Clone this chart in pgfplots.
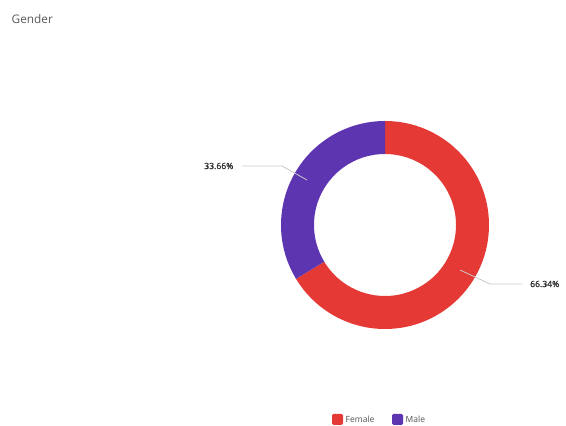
\documentclass[border=0pt]{standalone}
\usepackage{pgfplots}
\pgfplotsset{compat=1.18}
\usepackage{pgfplotstable}
\usepackage{fontspec}
\setmainfont{Open Sans}
\newfontfamily\semib[FakeBold=1.3]{Open Sans}
\definecolor{femred}{RGB}{229,57,53}
\definecolor{malepurple}{RGB}{94,53,177}
\definecolor{titlegray}{RGB}{90,90,90}
\definecolor{labelgray}{RGB}{45,45,45}
\definecolor{legendgray}{RGB}{80,80,80}
\definecolor{leadgray}{RGB}{200,200,200}

\pgfplotstableread{
label value
Female 66.34
Male 33.66
}\gendertable

\pgfplotstablegetelem{0}{value}\of\gendertable
\let\vF\pgfplotsretval
\pgfplotstablegetelem{1}{value}\of\gendertable
\let\vM\pgfplotsretval
\pgfmathsetmacro\aF{90-3.6*\vF}
\pgfmathsetmacro\aM{\aF-3.6*\vM}

\begin{document}
\begin{tikzpicture}
\begin{axis}[
  x=1pt, y=1pt,
  xmin=0, xmax=566, ymin=0, ymax=426,
  hide axis, clip=false,
  scale only axis,
]
\path (axis cs:0,0) rectangle (axis cs:566,426);
% title
\node[anchor=west, text=titlegray, inner sep=0pt, font=\fontsize{11.8}{13}\selectfont] at (axis cs:11.5,407) {Gender};
% ring: Female
\fill[femred] (axis cs:385,201) ++(90:104pt) arc[start angle=90, end angle=\aF, radius=104pt]
   -- ++(\aF:-33pt) arc[start angle=\aF, end angle=90, radius=71pt] -- cycle;
% ring: Male
\fill[malepurple] (axis cs:385,201) ++(\aF:104pt) arc[start angle=\aF, end angle=\aM, radius=104pt]
   -- ++(\aM:-33pt) arc[start angle=\aM, end angle=\aF, radius=71pt] -- cycle;
% leader lines
\draw[leadgray, line width=0.8pt] (axis cs:242,260) -- (axis cs:282,260) -- (axis cs:307,246);
\draw[leadgray, line width=0.8pt] (axis cs:460,156) -- (axis cs:490,142) -- (axis cs:522,142);
% labels
\node[anchor=east, text=labelgray, inner sep=0pt, font=\semib\fontsize{8.6}{10}\selectfont] at (axis cs:233.5,260) {\vM\%};
\node[anchor=west, text=labelgray, inner sep=0pt, font=\semib\fontsize{8.6}{10}\selectfont] at (axis cs:530,142) {\vF\%};
% legend
\fill[femred, rounded corners=1.5pt] (axis cs:332,1) rectangle (axis cs:343,12);
\node[anchor=west, text=legendgray, font=\fontsize{8.5}{10}\selectfont, inner sep=0pt] at (axis cs:345.5,6.5) {Female};
\fill[malepurple, rounded corners=1.5pt] (axis cs:392,1) rectangle (axis cs:403,12);
\node[anchor=west, text=legendgray, font=\fontsize{8.5}{10}\selectfont, inner sep=0pt] at (axis cs:405.5,6.5) {Male};
\end{axis}
\end{tikzpicture}
\end{document}
